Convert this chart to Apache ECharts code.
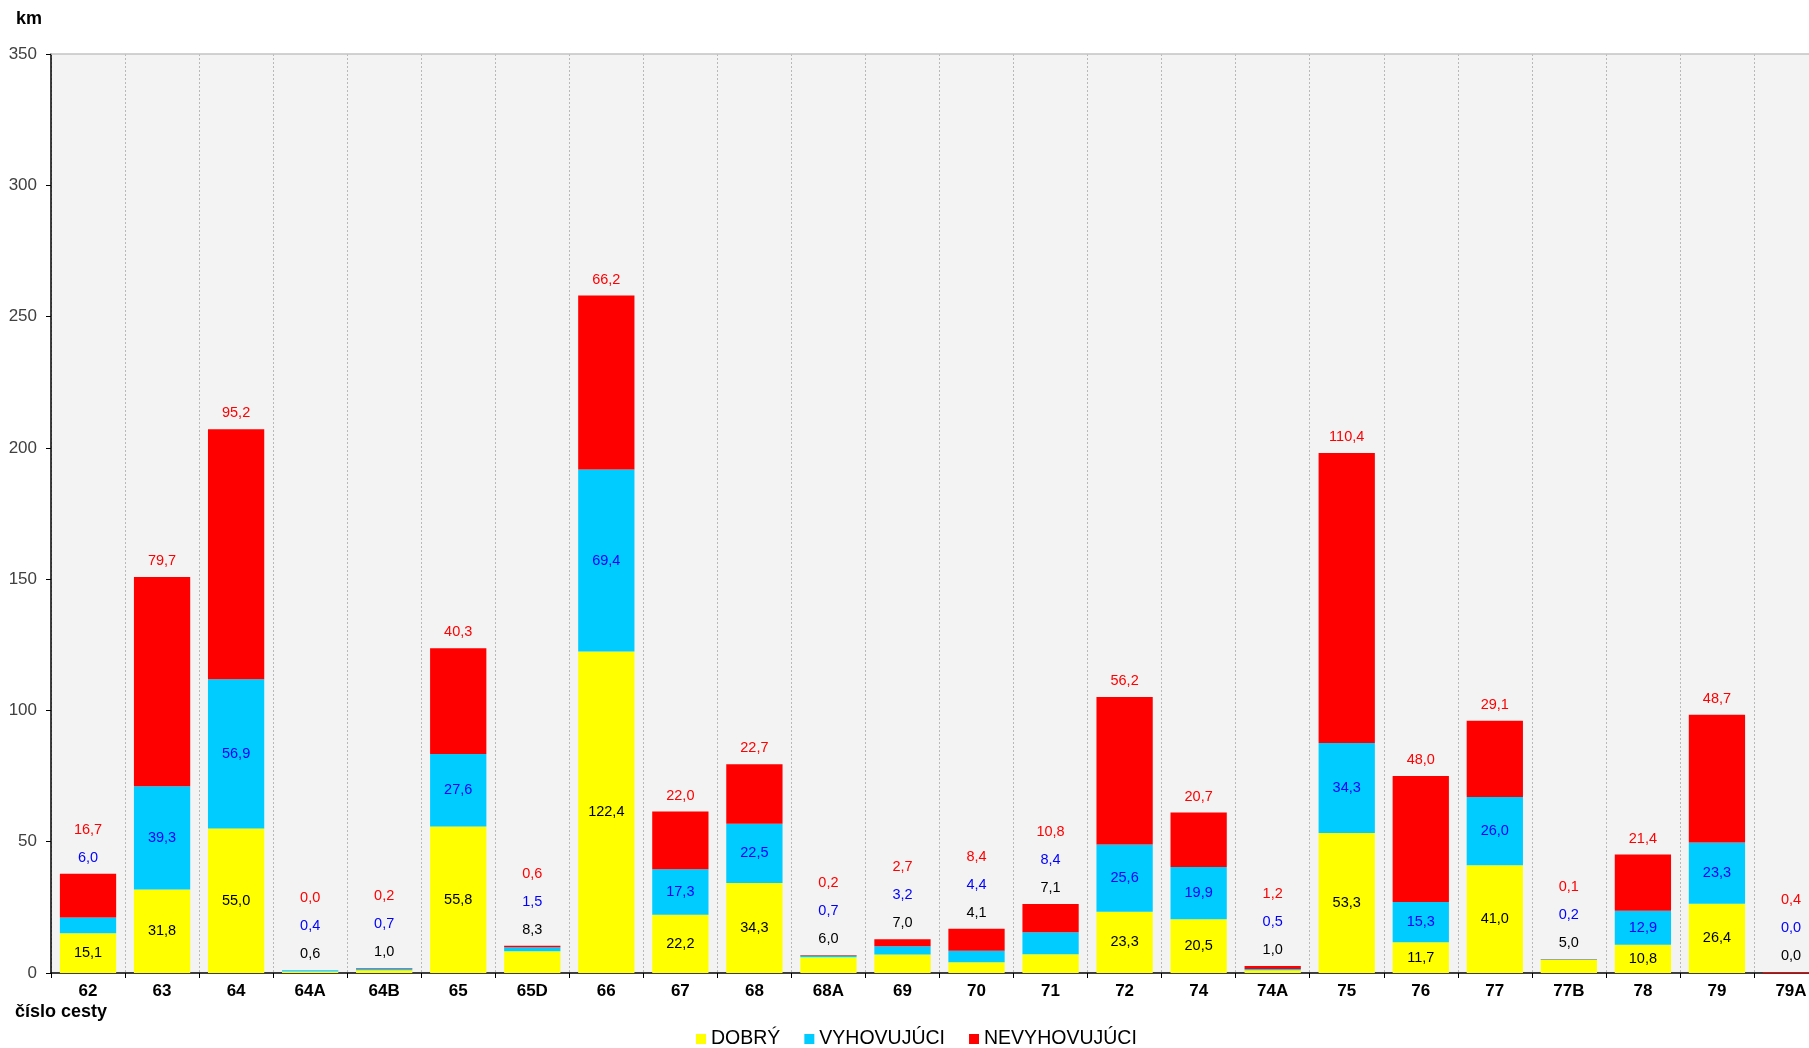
<!DOCTYPE html>
<html>
<head>
<meta charset="utf-8">
<script src="https://cdn.jsdelivr.net/npm/echarts@6/dist/echarts.min.js"></script>
<style>
  html, body { margin: 0; padding: 0; background: #ffffff; }
  #chart { width: 1809px; height: 1048px; }
</style>
</head>
<body>
<div id="chart"></div>
<script>
// Road numbers and lengths (km) by pavement condition class
const categories = ['62','63','64','64A','64B','65','65D','66','67','68','68A','69','70','71','72','74','74A','75','76','77','77B','78','79','79A'];
const dobry = [15.1,31.8,55.0,0.6,1.0,55.8,8.3,122.4,22.2,34.3,6.0,7.0,4.1,7.1,23.3,20.5,1.0,53.3,11.7,41.0,5.0,10.8,26.4,0.0];
const vyhovujuci = [6.0,39.3,56.9,0.4,0.7,27.6,1.5,69.4,17.3,22.5,0.7,3.2,4.4,8.4,25.6,19.9,0.5,34.3,15.3,26.0,0.2,12.9,23.3,0.0];
const nevyhovujuci = [16.7,79.7,95.2,0.0,0.2,40.3,0.6,66.2,22.0,22.7,0.2,2.7,8.4,10.8,56.2,20.7,1.2,110.4,48.0,29.1,0.1,21.4,48.7,0.4];
const seriesNames = ['DOBRÝ', 'VYHOVUJÚCI', 'NEVYHOVUJÚCI'];

const FONT = '"Liberation Sans", Arial, sans-serif';
const YELLOW = '#ffff00', CYAN = '#00ccff', RED = '#ff0000';
const LBL_BLACK = '#000000', LBL_BLUE = '#0000ff', LBL_RED = '#ff0000';
const INSIDE_MIN = 10; // segments shorter than this get their label above the bar
const LBL_SIZE = 14.5;
const LBL_LINE = 28;

const fmt = v => v.toFixed(1).replace('.', ',');

// Labels that do not fit inside a segment are stacked above the bar
function topLabel(p) {
  const i = p.dataIndex;
  const lines = ['{r|' + fmt(nevyhovujuci[i]) + '}'];
  if (vyhovujuci[i] < INSIDE_MIN) lines.push('{b|' + fmt(vyhovujuci[i]) + '}');
  if (dobry[i] < INSIDE_MIN) lines.push('{k|' + fmt(dobry[i]) + '}');
  return lines.join('\n');
}
function insideLabel(arr) {
  return p => (arr[p.dataIndex] >= INSIDE_MIN ? fmt(arr[p.dataIndex]) : '');
}

const chart = echarts.init(document.getElementById('chart'), null, { renderer: 'canvas' });

const option = {
  animation: false,
  backgroundColor: '#ffffff',
  textStyle: { fontFamily: FONT },
  grid: {
    left: 51, top: 54, bottom: 75, width: 1777,
    outerBoundsMode: 'none',
    containLabel: false,
    show: true, backgroundColor: '#f3f3f3', borderWidth: 0
  },
  legend: {
    data: seriesNames,
    left: 691, top: 1024,
    itemWidth: 10, itemHeight: 10, itemGap: 24,
    icon: 'rect',
    textStyle: { fontFamily: FONT, fontSize: 19.5, color: '#000000' }
  },
  graphic: [
    { type: 'text', left: 16, top: 10, style: { text: 'km', font: 'bold 18px ' + FONT, fill: '#000000' } },
    { type: 'text', left: 15, top: 1003, style: { text: 'číslo cesty', font: 'bold 18px ' + FONT, fill: '#000000' } }
  ],
  xAxis: [
    {
      type: 'category',
      data: categories,
      axisLine: { show: true, lineStyle: { color: '#000000', width: 1.5 } },
      axisTick: { show: true, length: 5, lineStyle: { color: '#000000' } },
      axisLabel: { fontFamily: FONT, fontSize: 17, fontWeight: 'bold', color: '#000000', margin: 10, interval: 0 },
      splitLine: { show: true, lineStyle: { color: '#b8b8b8', type: [2, 2], width: 1 } }
    },
    {
      type: 'category',
      position: 'top',
      data: categories,
      axisLine: { show: true, lineStyle: { color: '#c4c4c4', width: 1.5 } },
      axisTick: { show: false },
      axisLabel: { show: false },
      splitLine: { show: false }
    }
  ],
  yAxis: {
    type: 'value',
    min: 0, max: 350, interval: 50,
    axisLine: { show: true, lineStyle: { color: '#000000', width: 1.5 } },
    axisTick: { show: true, length: 5, lineStyle: { color: '#000000' } },
    axisLabel: { fontFamily: FONT, fontSize: 17, color: '#404040', margin: 14 },
    splitLine: { show: false }
  },
  series: [
    {
      name: seriesNames[0], type: 'bar', stack: 'total', data: dobry,
      barCategoryGap: '24%',
      itemStyle: { color: YELLOW },
      label: { show: true, position: 'inside', formatter: insideLabel(dobry), color: LBL_BLACK, fontSize: LBL_SIZE, fontFamily: FONT }
    },
    {
      name: seriesNames[1], type: 'bar', stack: 'total', data: vyhovujuci,
      barCategoryGap: '24%',
      itemStyle: { color: CYAN },
      label: { show: true, position: 'inside', formatter: insideLabel(vyhovujuci), color: LBL_BLUE, fontSize: LBL_SIZE, fontFamily: FONT }
    },
    {
      name: seriesNames[2], type: 'bar', stack: 'total', data: nevyhovujuci,
      barCategoryGap: '24%',
      itemStyle: { color: RED },
      label: {
        show: true, position: 'top', distance: 2,
        formatter: topLabel,
        fontSize: LBL_SIZE, fontFamily: FONT, lineHeight: LBL_LINE,
        rich: {
          r: { color: LBL_RED, fontSize: LBL_SIZE, fontFamily: FONT, lineHeight: LBL_LINE },
          b: { color: LBL_BLUE, fontSize: LBL_SIZE, fontFamily: FONT, lineHeight: LBL_LINE },
          k: { color: LBL_BLACK, fontSize: LBL_SIZE, fontFamily: FONT, lineHeight: LBL_LINE }
        }
      }
    }
  ]
};

chart.setOption(option);
</script>
</body>
</html>
